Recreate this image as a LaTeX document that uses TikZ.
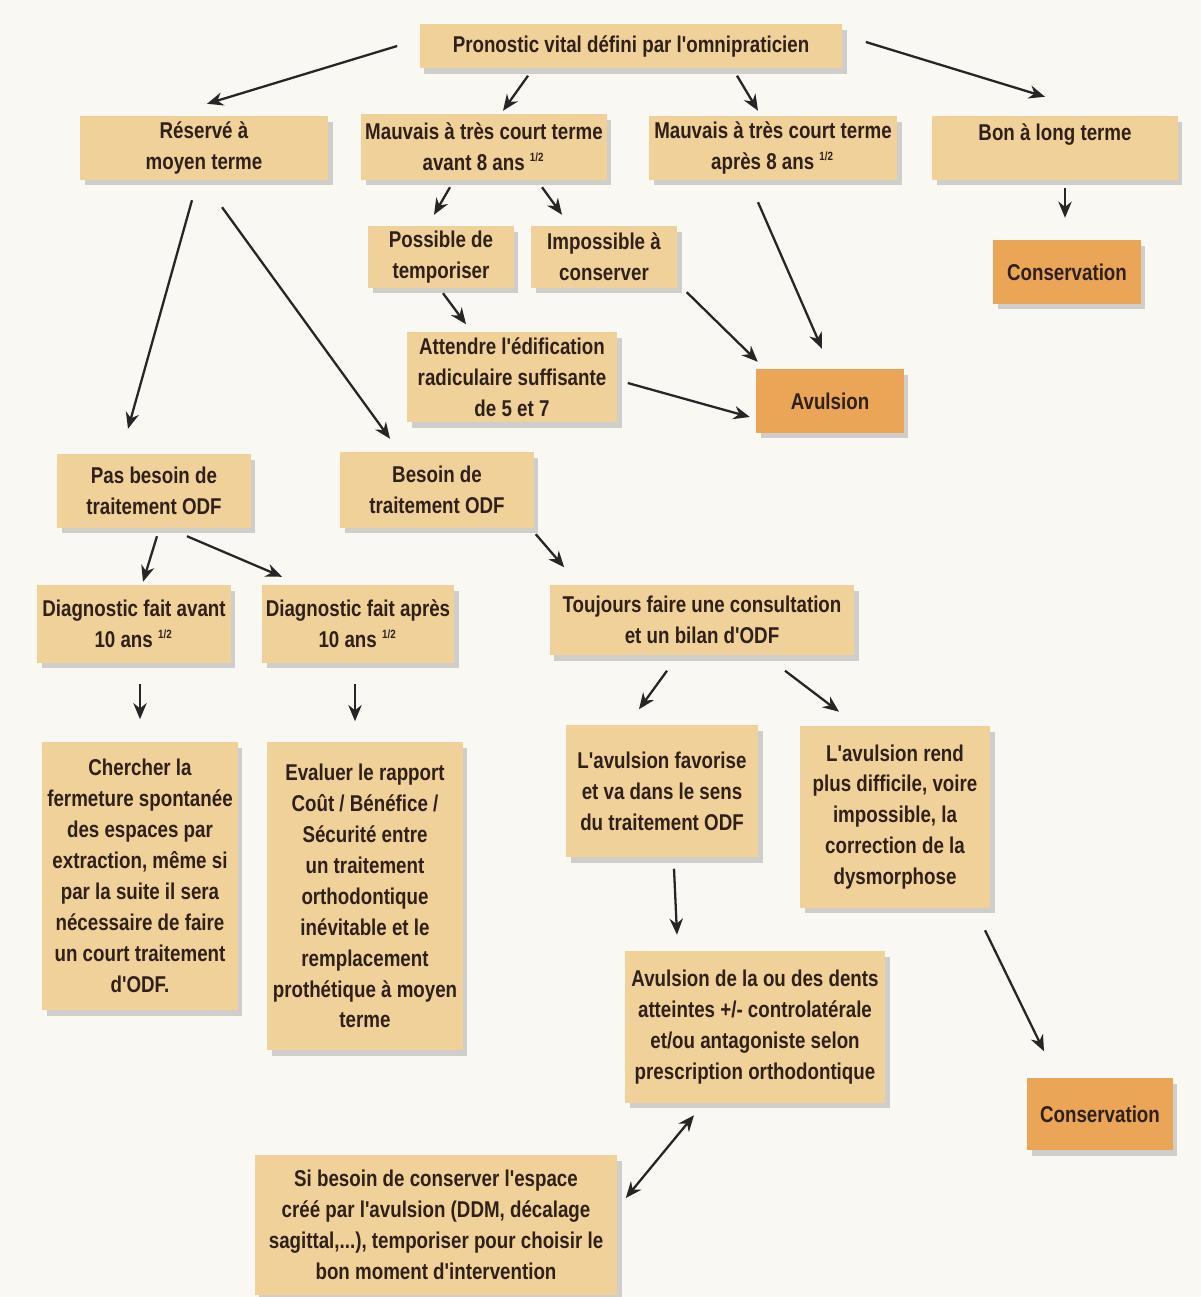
\documentclass[tikz,border=0pt]{standalone}
\usepackage{fontspec}
\usepackage{tikz}
\usetikzlibrary{arrows.meta,calc,shadows}
\newfontfamily\boxfont{Liberation Sans}[FakeStretch=0.82]
\definecolor{pagebg}{RGB}{250,248,243}
\definecolor{boxtan}{RGB}{241,209,154}
\definecolor{boxorange}{RGB}{234,166,86}
\definecolor{inkbrown}{RGB}{48,32,26}
\newcommand{\half}{\textsuperscript{\fontsize{3.4}{3.6}\selectfont 1/2}}

\begin{document}
\begin{tikzpicture}[
  x=0.01cm, y=-0.01cm,
  box/.style ={fill=boxtan, align=center, inner sep=0pt,
               text=inkbrown, font=\boxfont\bfseries\fontsize{6.5}{8.8}\selectfont,
               drop shadow={shadow xshift=1.3pt, shadow yshift=-1.6pt, opacity=0.35}},
  darkbox/.style={box, fill=boxorange},
  flow/.style ={-{Stealth[length=4.6pt, width=3.8pt]}, line width=0.65pt, draw=black!85},
  twoway/.style={{Stealth[length=4.6pt, width=3.8pt]}-{Stealth[length=4.6pt, width=3.8pt]},
               line width=0.65pt, draw=black!85},
]
\useasboundingbox (0,0) rectangle (1201,1297);
\fill[pagebg] (0,0) rectangle (1201,1297);

\node[box, minimum width=4.22cm, minimum height=0.44cm] (top) at (631,46)
  {Pronostic vital défini par l'omnipraticien};
\node[box, minimum width=2.48cm, minimum height=0.63cm] (res) at (204,148)
  {Réservé à\\moyen terme};
\node[box, minimum width=2.45cm, minimum height=0.65cm] (mav) at (484,147)
  {Mauvais à très court terme\\avant 8 ans \half};
\node[box, minimum width=2.48cm, minimum height=0.63cm] (map) at (773,148)
  {Mauvais à très court terme\\après 8 ans \half};
\node[box, minimum width=2.45cm, minimum height=0.63cm] (bon) at (1055,148)
  {Bon à long terme\\~};
\node[darkbox, minimum width=1.47cm, minimum height=0.63cm] (cons1) at (1067,272)
  {Conservation};

\node[box, minimum width=1.45cm, minimum height=0.61cm] (pos) at (441,257)
  {Possible de\\temporiser};
\node[box, minimum width=1.46cm, minimum height=0.61cm] (imp) at (604,257)
  {Impossible à\\conserver};
\node[box, minimum width=2.10cm, minimum height=0.90cm] (att) at (512,377)
  {Attendre l'édification\\radiculaire suffisante\\de 5 et 7};
\node[darkbox, minimum width=1.47cm, minimum height=0.63cm] (avu) at (830,401)
  {Avulsion};

\node[box, minimum width=1.93cm, minimum height=0.73cm] (pas) at (154,491)
  {Pas besoin de\\traitement ODF};
\node[box, minimum width=1.93cm, minimum height=0.75cm] (bes) at (437,490)
  {Besoin de\\traitement ODF};
\node[box, minimum width=1.93cm, minimum height=0.77cm] (dav) at (134,624)
  {Diagnostic fait avant\\10 ans \half};
\node[box, minimum width=1.92cm, minimum height=0.77cm] (dap) at (358,624)
  {Diagnostic fait après\\10 ans \half};
\node[box, minimum width=3.04cm, minimum height=0.70cm] (tou) at (702,620)
  {Toujours faire une consultation\\et un bilan d'ODF};

\node[box, minimum width=1.95cm, minimum height=2.68cm] (che) at (140,876)
  {Chercher la\\fermeture spontanée\\des espaces par\\extraction, même si\\par la suite il sera\\nécessaire de faire\\un court traitement\\d'ODF.};
\node[box, minimum width=1.95cm, minimum height=3.08cm] (eva) at (365,896)
  {Evaluer le rapport\\Coût / Bénéfice /\\Sécurité entre\\un traitement\\orthodontique\\inévitable et le\\remplacement\\prothétique à moyen\\terme};
\node[box, minimum width=1.92cm, minimum height=1.32cm] (fav) at (662,791)
  {L'avulsion favorise\\et va dans le sens\\du traitement ODF};
\node[box, minimum width=1.90cm, minimum height=1.81cm] (ren) at (895,817)
  {L'avulsion rend\\plus difficile, voire\\impossible, la\\correction de la\\dysmorphose};
\node[box, minimum width=2.60cm, minimum height=1.51cm] (avd) at (755,1027)
  {Avulsion de la ou des dents\\atteintes +/- controlatérale\\et/ou antagoniste selon\\prescription orthodontique};
\node[darkbox, minimum width=1.45cm, minimum height=0.72cm] (cons2) at (1100,1114)
  {Conservation};
\node[box, minimum width=3.62cm, minimum height=1.40cm] (sib) at (436,1225)
  {Si besoin de conserver l'espace\\créé par l'avulsion (DDM, décalage\\sagittal,...), temporiser pour choisir le\\bon moment d'intervention};

\draw[flow] ($(top.west)+(-22,0)$) -- ($(res.north)+(3,-12)$);
\draw[flow] ($(top.south)+(-103,7)$) -- ($(mav.north)+(19,-3)$);
\draw[flow] ($(top.south)+(106,7)$) -- ($(map.north)+(-15,-5)$);
\draw[flow] ($(top.east)+(23,-4)$) -- ($(bon.north)+(-10,-19)$);
\draw[flow] ($(bon.south)+(10,8)$) -- ($(cons1.north)+(-2,-22)$);

\draw[flow] ($(mav.south)+(-34,7)$) -- ($(pos.north)+(-7,-11)$);
\draw[flow] ($(mav.south)+(58,7)$) -- ($(imp.north)+(-42,-11)$);
\draw[flow] ($(pos.south)+(2,5)$) -- ($(att.north)+(-46,-7)$);
\draw[flow] ($(imp.south east)+(9,4)$) -- ($(avu.north west)+(2,-7)$);
\draw[flow] ($(map.south)+(-15,22)$) -- ($(avu.north)+(-8,-20)$);
\draw[flow] ($(att.east)+(10,6)$) -- ($(avu.west)+(-6,16)$);

\draw[flow] ($(res.south)+(-12,20)$) -- ($(pas.north)+(-26,-25)$);
\draw[flow] ($(res.south)+(18,27)$) -- ($(bes.north)+(-47,-13)$);
\draw[flow] ($(pas.south)+(3,8)$) -- ($(dav.north)+(9,-3)$);
\draw[flow] ($(pas.south)+(33,8)$) -- ($(dap.north)+(-76,-8)$);
\draw[flow] ($(bes.south east)+(1.5,6)$) -- ($(tou.north west)+(15,-17)$);
\draw[flow] ($(dav.south)+(6,21)$) -- ($(che.north)+(0,-22)$);
\draw[flow] ($(dap.south)+(-3,21)$) -- ($(eva.north)+(-10,-20)$);

\draw[flow] ($(tou.south)+(-35,15)$) -- ($(fav.north)+(-23,-15)$);
\draw[flow] ($(tou.south)+(83,15)$) -- ($(ren.north)+(-56,-14)$);
\draw[flow] ($(fav.south)+(12,11)$) -- ($(avd.north)+(-78,-16)$);
\draw[flow] ($(ren.south)+(90,22)$) -- ($(cons2.north)+(-56,-26)$);
\draw[twoway] ($(avd.south)+(-61,12)$) -- ($(sib.east)+(8,-27)$);

\end{tikzpicture}
\end{document}
